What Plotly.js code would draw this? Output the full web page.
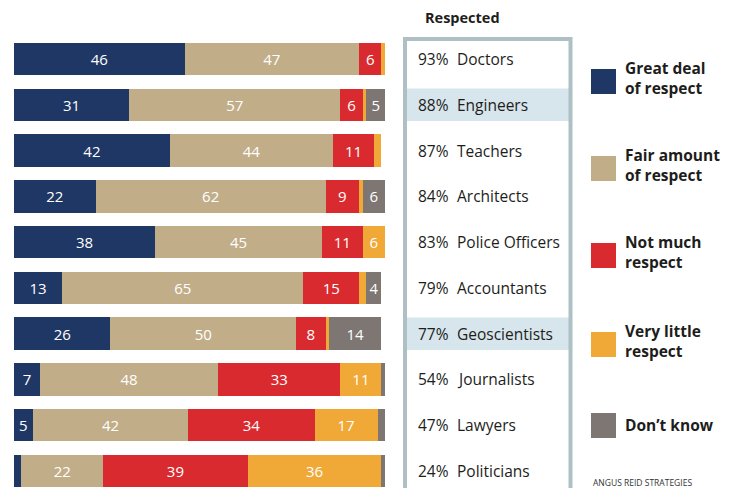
<!DOCTYPE html>
<html>
<head>
<meta charset="utf-8">
<script src="https://cdn.plot.ly/plotly-3.0.1.min.js"></script>
<style>html,body{margin:0;padding:0;background:#fff;}#chart{width:738px;height:488px;}</style>
</head>
<body>
<div id="chart"></div>
<script>
const professions = ['Doctors','Engineers','Teachers','Architects','Police Officers','Accountants','Geoscientists','Journalists','Lawyers','Politicians'];
const respected = [93,88,87,84,83,79,77,54,47,24];
const greatDeal = [46,31,42,22,38,13,26,7,5,2];
const fairAmount = [47,57,44,62,45,65,50,48,42,22];
const notMuch = [6,6,11,9,11,15,8,33,34,39];
const veryLittle = [1,1,2,1,6,2,1,11,17,36];
const dontKnow = [0,5,0,6,0,4,14,1,2,1];
const highlighted = ['Engineers','Geoscientists'];
const seriesNames = ['Great deal<br>of respect','Fair amount<br>of respect','Not much<br>respect','Very little<br>respect','Don\u2019t know'];
const seriesColors = ['#1f3765','#c1ae89','#d92b2f','#f0a837','#7d7673'];
const seriesValues = [greatDeal, fairAmount, notMuch, veryLittle, dontKnow];

const W = 738, H = 488;
const px = x => x / W;
const py = y => 1 - y / H;
const FONT = 'Open Sans, Noto Sans, sans-serif';

const traces = seriesValues.map((vals, i) => ({
  type: 'bar',
  orientation: 'h',
  y: professions,
  x: vals,
  name: seriesNames[i],
  marker: {color: seriesColors[i], line: {width: 0}},
  text: vals.map(v => v >= 4 ? String(v) : ''),
  textposition: 'inside',
  insidetextanchor: 'middle',
  textangle: 0,
  textfont: {color: '#ffffff', size: 15, family: FONT},
  hoverinfo: 'skip',
  showlegend: false
}));

const shapes = [];
const annotations = [];

// highlight rows in the box
highlighted.forEach(name => {
  const idx = professions.indexOf(name);
  shapes.push({type: 'rect', xref: 'paper', yref: 'y', x0: px(407), x1: px(569),
    y0: idx - 0.355, y1: idx + 0.355, fillcolor: '#d7e5ec', line: {width: 0}, layer: 'below'});
});
// box outline
shapes.push({type: 'rect', xref: 'paper', yref: 'paper', x0: px(405), x1: px(570.5),
  y0: py(520), y1: py(39), fillcolor: 'rgba(0,0,0,0)', line: {color: '#aebfc6', width: 4}});

// box texts
professions.forEach((name, i) => {
  annotations.push({xref: 'paper', yref: 'y', x: px(416), y: name, xanchor: 'left', yanchor: 'middle',
    text: respected[i] + '%', showarrow: false, font: {family: FONT, size: 15.5, color: '#1d1d1b'}});
  annotations.push({xref: 'paper', yref: 'y', x: px(455), y: name, xanchor: 'left', yanchor: 'middle',
    text: name, showarrow: false, font: {family: FONT, size: 15.5, color: '#1d1d1b'}});
});

annotations.push({xref: 'paper', yref: 'paper', x: px(462), y: py(18), xanchor: 'center', yanchor: 'middle',
  text: '<b>Respected</b>', showarrow: false, font: {family: FONT, size: 14.5, color: '#1d1d1b'}});

// legend
const legSquareY = [81.5, 168.5, 255.5, 344.5, 425.5];
const legTextY = [78, 165, 252, 341, 425];
seriesNames.forEach((n, i) => {
  shapes.push({type: 'rect', xref: 'paper', yref: 'paper', x0: px(591), x1: px(616),
    y0: py(legSquareY[i] + 12.5), y1: py(legSquareY[i] - 12.5), fillcolor: seriesColors[i], line: {width: 0}});
  annotations.push({xref: 'paper', yref: 'paper', x: px(623), y: py(legTextY[i]), xanchor: 'left', yanchor: 'middle',
    align: 'left', text: '<b>' + n + '</b>', showarrow: false, font: {family: FONT, size: 15.5, color: '#1d1d1b'}});
});

annotations.push({xref: 'paper', yref: 'paper', x: px(591), y: py(482), xanchor: 'left', yanchor: 'middle',
  text: 'ANGUS REID STRATEGIES', showarrow: false, font: {family: FONT, size: 8.5, color: '#333333'}});

const layout = {
  width: W, height: H,
  margin: {l: 0, r: 0, t: 0, b: 0, pad: 0},
  paper_bgcolor: '#ffffff', plot_bgcolor: 'rgba(0,0,0,0)',
  barmode: 'stack', bargap: 0.29,
  showlegend: false,
  xaxis: {domain: [14 / W, 385 / W], range: [0, 100], visible: false, fixedrange: true},
  yaxis: {domain: [0, 1 - 36 / H], type: 'category', categoryorder: 'array', categoryarray: professions,
    range: [9.371, -0.502], visible: false, fixedrange: true},
  shapes: shapes,
  annotations: annotations,
  uniformtext: {mode: false}
};

Plotly.newPlot('chart', traces, layout, {displayModeBar: false, staticPlot: true});
</script>
</body>
</html>
